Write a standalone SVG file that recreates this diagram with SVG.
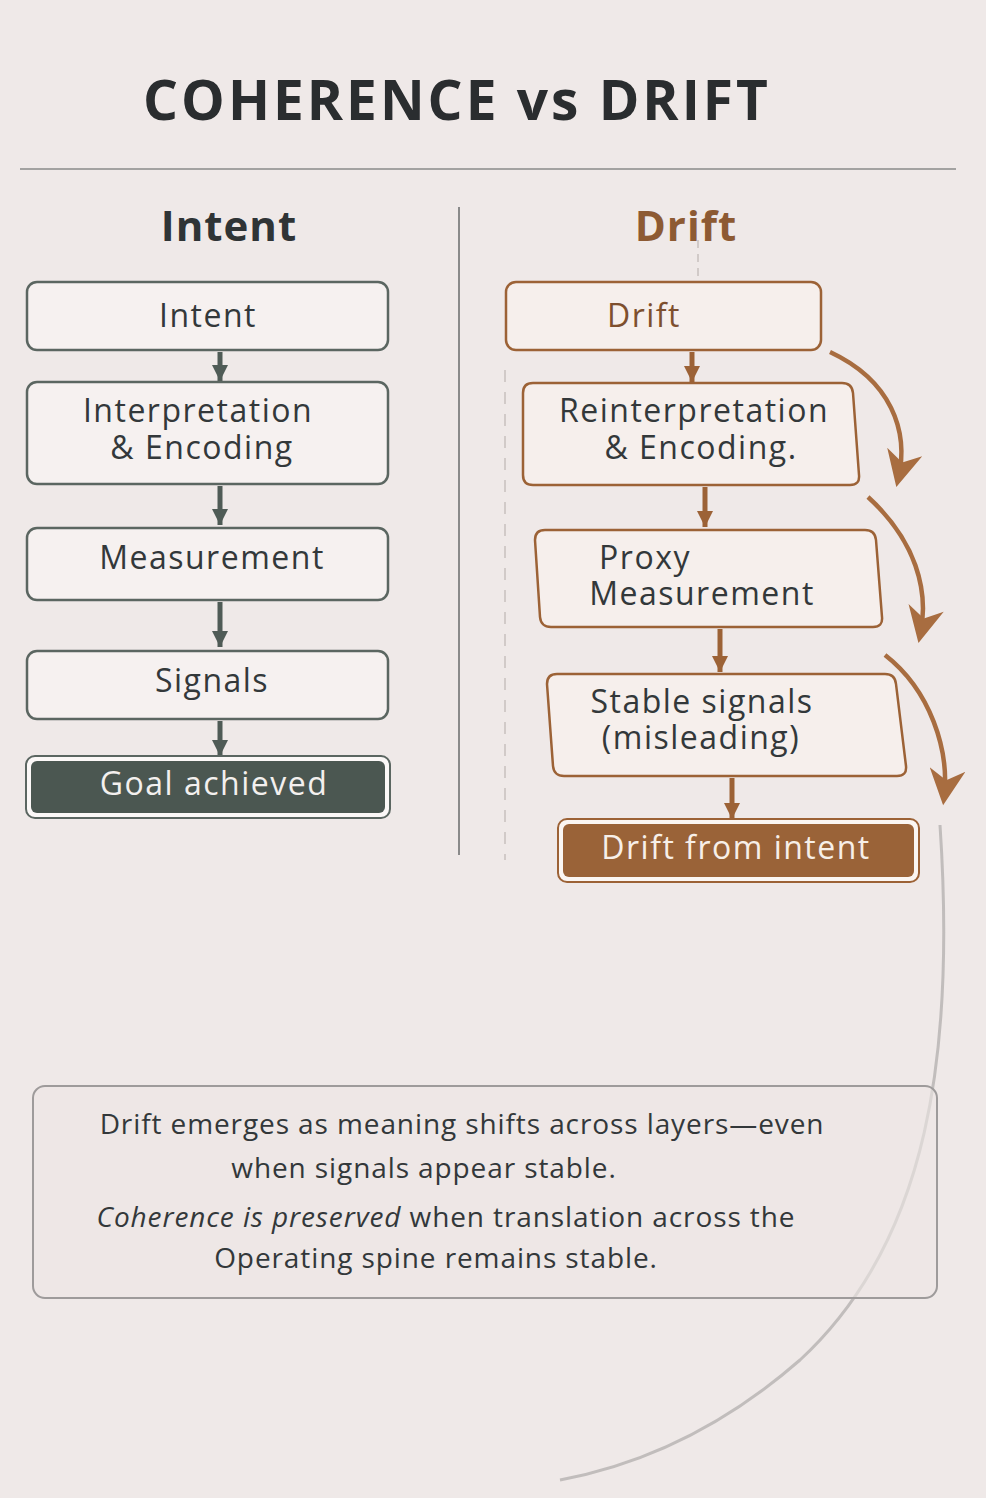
<svg xmlns="http://www.w3.org/2000/svg" width="986" height="1498" viewBox="0 0 986 1498">
<defs>
<style>
text{font-family:"Open Sans","Noto Sans",sans-serif;text-anchor:middle;fill:#33383a}
.lb{stroke:#5b6661;stroke-width:2.5;fill:#f6f1f0}
.rb{stroke:#9c6236;stroke-width:2.5;fill:#f6efec}
.t{font-size:32px;letter-spacing:1.5px}
.al{stroke:#4f5b56;stroke-width:5}
.ar{stroke:#9c6236;stroke-width:5}
.cv{fill:none;stroke:#a86d40;stroke-width:4.5}
.note{font-size:28px;letter-spacing:0.9px}
</style>
<marker id="hl" viewBox="0 0 10 10" refX="10" refY="5" markerWidth="16" markerHeight="34" markerUnits="userSpaceOnUse" orient="auto"><path d="M0,0 L10,5 L0,10z" fill="#4f5b56"/></marker>
<marker id="hr" viewBox="0 0 10 10" refX="10" refY="5" markerWidth="16" markerHeight="34" markerUnits="userSpaceOnUse" orient="auto"><path d="M0,0 L10,5 L0,10z" fill="#9c6236"/></marker>
<marker id="hc" viewBox="0 0 10 10" refX="8" refY="5" markerWidth="40" markerHeight="36" markerUnits="userSpaceOnUse" orient="auto"><path d="M0,0 L10,5 L0,10 L3,5z" fill="#a86d40"/></marker>
</defs>
<rect width="986" height="1498" fill="#efe9e8"/>
<text x="457" y="120" font-size="55" font-weight="bold" letter-spacing="3" style="fill:#2a2d2f">COHERENCE vs DRIFT</text>
<line x1="20" y1="169" x2="956" y2="169" stroke="#8a8a8a" stroke-width="1.5"/>
<line x1="459" y1="207" x2="459" y2="855" stroke="#8a8a8a" stroke-width="2"/>
<line x1="505" y1="370" x2="505" y2="860" stroke="#c8c0bd" stroke-width="1.5" stroke-dasharray="12 10"/>
<line x1="698" y1="240" x2="698" y2="280" stroke="#c8c0bd" stroke-width="1.5" stroke-dasharray="8 6"/>
<text x="229" y="241" font-size="42" font-weight="bold" letter-spacing="1" style="fill:#2f3436">Intent</text>
<text x="686" y="241" font-size="42" font-weight="bold" letter-spacing="1" style="fill:#8d5a33">Drift</text>
<path d="M940,825 C955,1050 930,1240 800,1360 C720,1430 640,1465 560,1480" fill="none" stroke="#b5b1b0" stroke-width="3" opacity="0.8"/>

<g id="connectors">
<line class="al" x1="220" y1="352" x2="220" y2="381" marker-end="url(#hl)"/>
<line class="al" x1="220" y1="486" x2="220" y2="525" marker-end="url(#hl)"/>
<line class="al" x1="220" y1="602" x2="220" y2="647" marker-end="url(#hl)"/>
<line class="al" x1="220" y1="721" x2="220" y2="756" marker-end="url(#hl)"/>
<line class="ar" x1="692" y1="352" x2="692" y2="382" marker-end="url(#hr)"/>
<line class="ar" x1="705" y1="487" x2="705" y2="527" marker-end="url(#hr)"/>
<line class="ar" x1="720" y1="629" x2="720" y2="672" marker-end="url(#hr)"/>
<line class="ar" x1="732" y1="778" x2="732" y2="819" marker-end="url(#hr)"/>
<path class="cv" d="M830,352 C890,380 910,430 898,480" marker-end="url(#hc)"/>
<path class="cv" d="M868,497 C915,540 930,590 920,636" marker-end="url(#hc)"/>
<path class="cv" d="M885,655 C930,690 950,750 944,798" marker-end="url(#hc)"/>
</g>

<g id="n-intent"><rect class="lb" x="27" y="282" width="361" height="68" rx="10"/><text class="t" x="208" y="327">Intent</text></g>
<g id="n-interp"><rect class="lb" x="27" y="382" width="361" height="102" rx="10"/><text class="t" x="198" y="422">Interpretation</text><text class="t" x="202" y="459">&amp; Encoding</text></g>
<g id="n-meas"><rect class="lb" x="27" y="528" width="361" height="72" rx="10"/><text class="t" x="212" y="569">Measurement</text></g>
<g id="n-signals"><rect class="lb" x="27" y="651" width="361" height="68" rx="10"/><text class="t" x="212" y="692">Signals</text></g>
<g id="n-goal"><rect x="26" y="756" width="364" height="62" rx="9" fill="#fbf8f7" stroke="#5b6661" stroke-width="2"/><rect x="31" y="761" width="354" height="52" rx="6" fill="#4b5751"/><text class="t" x="214" y="795" style="fill:#f3f0ee">Goal achieved</text></g>

<g id="n-drift"><rect class="rb" x="506" y="282" width="315" height="68" rx="10"/><text class="t" x="644" y="327" style="fill:#7e4f2e">Drift</text></g>
<g id="n-reinterp"><path class="rb" d="M533,383 L842,383 Q852,383 853,393 L859,475 Q860,485 850,485 L533,485 Q523,485 523,475 L523,393 Q523,383 533,383z"/><text class="t" x="694" y="422">Reinterpretation</text><text class="t" x="701" y="459">&amp; Encoding.</text></g>
<g id="n-proxy"><path class="rb" d="M545,530 L865,530 Q875,530 876,540 L882,617 Q883,627 873,627 L551,627 Q541,627 540,617 L535,540 Q535,530 545,530z"/><text class="t" x="645" y="569">Proxy</text><text class="t" x="702" y="605">Measurement</text></g>
<g id="n-stable"><path class="rb" d="M557,674 L885,674 Q895,674 896,684 L906,766 Q907,776 897,776 L564,776 Q554,776 553,766 L547,684 Q547,674 557,674z"/><text class="t" x="702" y="713">Stable signals</text><text class="t" x="701" y="749">(misleading)</text></g>
<g id="n-final"><rect x="558" y="819" width="361" height="63" rx="9" fill="#fbf6f2" stroke="#9c6236" stroke-width="2"/><rect x="563" y="824" width="351" height="53" rx="6" fill="#9a6338"/><text class="t" x="736" y="859" style="fill:#f7efe8">Drift from intent</text></g>

<g id="note">
<rect x="33" y="1086" width="904" height="212" rx="12" fill="#ece6e5" fill-opacity="0.6" stroke="#9e9b9b" stroke-width="2"/>
<text class="note" x="462" y="1134">Drift emerges as meaning shifts across layers—even</text>
<text class="note" x="424" y="1178">when signals appear stable.</text>
<text class="note" x="446" y="1227"><tspan font-style="italic">Coherence is preserved</tspan> when translation across the</text>
<text class="note" x="436" y="1268">Operating spine remains stable.</text>
</g>
</svg>
